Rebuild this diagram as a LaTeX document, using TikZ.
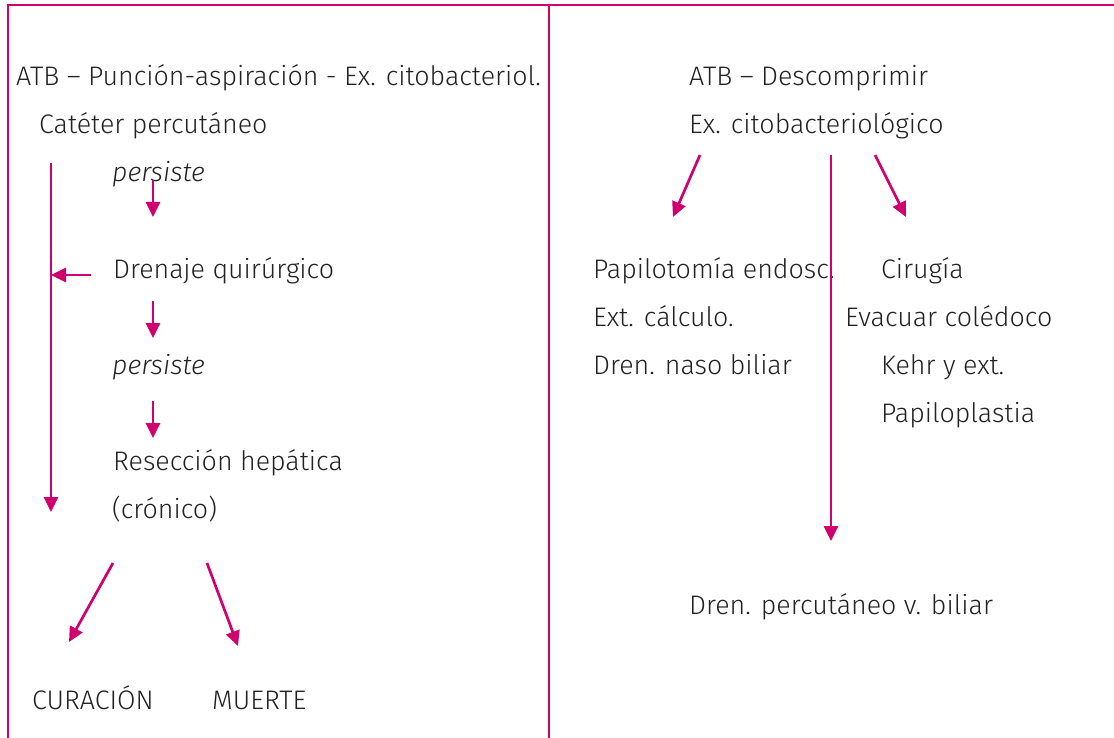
\documentclass[tikz,border=0pt]{standalone}
\usepackage{fontspec}
\setmainfont{Fira Sans}[UprightFont={* Light},ItalicFont={* Light Italic}]
\usepackage{tikz}
\usetikzlibrary{arrows.meta}

\definecolor{magenta}{RGB}{208,0,111}
\definecolor{textgray}{RGB}{34,34,34}
\tikzset{
  lbl/.style={anchor=base west,inner sep=0pt,text=textgray,font=\fontsize{26.8}{32}\selectfont},
  arr/.style={draw=magenta,line width=2.7pt,-{Triangle[length=15pt,width=14pt]}},
  frame/.style={draw=magenta,line width=2pt}
}

\begin{document}
\begin{tikzpicture}[x=1pt,y=-1pt]
\useasboundingbox (0,0) rectangle (1114,738);
% frame and divider
\draw[frame] (8,740) -- (8,5) -- (1116,5);
\draw[frame] (549,5) -- (549,740);

% left column
\node[lbl] (atbL) at (16,86) {ATB – Punción-aspiración - Ex. citobacteriol.};
\node[lbl] (cateter) at (39,134) {Catéter percutáneo};
\node[lbl] (persA) at (112,182) {\itshape persiste};
\node[lbl] (drenaje) at (113,278) {Drenaje quirúrgico};
\node[lbl] (persB) at (112,374) {\itshape persiste};
\node[lbl] (reseccion) at (113,470) {Resección hepática};
\node[lbl] (cronico) at (112,518) {(crónico)};
\node[lbl] (curacion) at (32,709) {CURACIÓN};
\node[lbl] (muerte) at (212,709) {MUERTE};

% right column
\node[lbl] (atbR) at (689,86) {ATB – Descomprimir};
\node[lbl] (excito) at (689,134) {Ex. citobacteriológico};
\node[lbl] (papilot) at (593,278) {Papilotomía endosc.};
\node[lbl] (extcalc) at (593,326) {Ext. cálculo.};
\node[lbl] (nasob) at (593,374) {Dren. naso biliar};
\node[lbl] (cirugia) at (881,278) {Cirugía};
\node[lbl] (evacuar) at (845,326) {Evacuar colédoco};
\node[lbl] (kehr) at (881,374) {Kehr y ext.};
\node[lbl] (papilop) at (881,422) {Papiloplastia};
\node[lbl] (percut) at (689,614) {Dren. percutáneo v. biliar};

% arrow ends
\coordinate (longS) at (51,163);
\coordinate (longE) at (51,512);
\coordinate (sideS) at (91,275);
\coordinate (sideE) at (51,275);
\coordinate (curS) at (113,563);
\coordinate (curE) at (69,642);
\coordinate (muS) at (207,563);
\coordinate (muE) at (238,646);
\coordinate (papS) at (700,155);
\coordinate (papE) at (673,217);
\coordinate (cirS) at (875,155);
\coordinate (cirE) at (906,217);
\coordinate (perS) at (831,155);
\coordinate (perE) at (831,541);

% arrows
\foreach \ya/\yb in {180/217, 301/338, 401/438}
  \draw[arr] (153,\ya) -- (153,\yb);
\draw[arr] (longS) -- (longE);
\draw[arr] (sideS) -- (sideE);
\draw[arr] (curS) -- (curE);
\draw[arr] (muS) -- (muE);
\draw[arr] (papS) -- (papE);
\draw[arr] (cirS) -- (cirE);
\draw[arr] (perS) -- (perE);
\end{tikzpicture}
\end{document}
